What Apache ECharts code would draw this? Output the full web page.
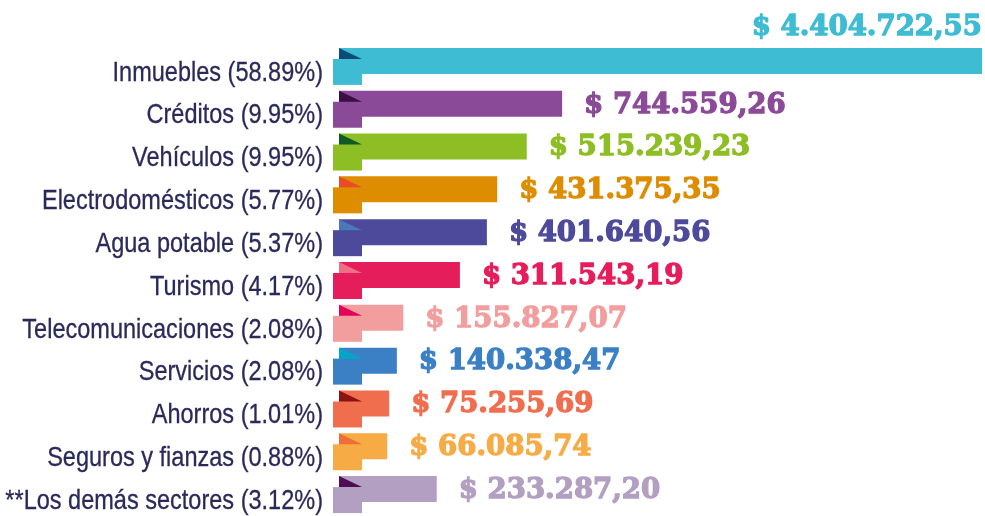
<!DOCTYPE html>
<html>
<head>
<meta charset="utf-8">
<script src="https://cdn.jsdelivr.net/npm/echarts@6/dist/echarts.min.js"></script>
<style>
html,body{margin:0;padding:0;background:#fff;}
#chart{width:985px;height:516px;}
</style>
</head>
<body>
<div id="chart"></div>
<script>
// ---- data ----
const categories = ['Inmuebles','Créditos','Vehículos','Electrodomésticos','Agua potable','Turismo','Telecomunicaciones','Servicios','Ahorros','Seguros y fianzas','**Los demás sectores'];
const shares = [58.89, 9.95, 9.95, 5.77, 5.37, 4.17, 2.08, 2.08, 1.01, 0.88, 3.12];
const amounts = [4404722.55, 744559.26, 515239.23, 431375.35, 401640.56, 311543.19, 155827.07, 140338.47, 75255.69, 66085.74, 233287.20];
// bar lengths as drawn in the infographic (% of the longest bar)
const drawnLength = [100, 34.7, 29.2, 24.6, 23.0, 18.8, 10.0, 9.0, 7.8, 7.5, 15.2];

// ---- styles ----
const barColors  = ['#3ebcd4','#8b4a97','#8dbe23','#de8d00','#4d4a9b','#e61d5b','#f29e9e','#3b80c5','#f06e4e','#f6ab45','#b29fc1'];
const foldColors = ['#0b4d7a','#3b0f45','#0d5a22','#ea4d25','#4a78b8','#ef6f85','#e5005a','#00a6c8','#8b1411','#ef6e37','#4d0e52'];

function fmtMoney(v){
  const parts = v.toFixed(2).split('.');
  const intPart = parts[0].replace(/\B(?=(\d{3})+(?!\d))/g, '.');
  return '$ ' + intPart + ',' + parts[1];
}

const chart = echarts.init(document.getElementById('chart'), null, {renderer:'canvas'});
const xMax = 100;

const valueFont = {fontFamily:'DejaVu Serif', fontWeight:'bold', fontSize:28, lineWidth:1.3};

chart.setOption({
  animation:false,
  backgroundColor:'#ffffff',
  grid:{left:339, right:3, top:45, height:475},
  xAxis:{type:'value', min:0, max:xMax, show:false},
  yAxis:{type:'category', data:categories, inverse:true, show:false},
  series:[{
    type:'custom',
    clip:false,
    data: drawnLength.map((v,i)=>[v,i]),
    encode:{x:0,y:1},
    renderItem:function(params, api){
      const v = api.value(0);
      const idx = api.value(1);
      const end = api.coord([v, idx]);
      const start = api.coord([0, idx]);
      const top = end[1] - 18.5;
      const left = start[0];
      const w = end[0] - left;
      const col = barColors[idx];
      const children = [
        {type:'rect', shape:{x:left, y:top, width:w, height:26}, style:{fill:col}},
        {type:'rect', shape:{x:left-6, y:top+11, width:29, height:26}, style:{fill:col}},
        {type:'polygon', shape:{points:[[left,top],[left+23,top+11],[left,top+11]]}, style:{fill:foldColors[idx]}},
        {type:'text', x:323, y:top+25, scaleX:0.84,
          style:{text: categories[idx] + ' (' + shares[idx].toFixed(2) + '%)', align:'right', verticalAlign:'middle',
            fontFamily:'Liberation Sans', fontSize:28, fill:'#29295a', stroke:'#29295a', lineWidth:0.3}}
      ];
      const label = fmtMoney(amounts[idx]);
      const base = {text:label, verticalAlign:'middle', fontFamily:valueFont.fontFamily, fontWeight:valueFont.fontWeight,
        fontSize:valueFont.fontSize, fill:col, stroke:col, lineWidth:valueFont.lineWidth};
      if (v >= xMax*0.9) {
        children.push({type:'text', x:end[0], y:top-20, scaleX:0.985,
          style:Object.assign({align:'right'}, base)});
      } else {
        children.push({type:'text', x:end[0]+22, y:top+14.5, scaleX:0.985,
          style:Object.assign({align:'left'}, base)});
      }
      return {type:'group', children:children};
    }
  }]
});
</script>
</body>
</html>
